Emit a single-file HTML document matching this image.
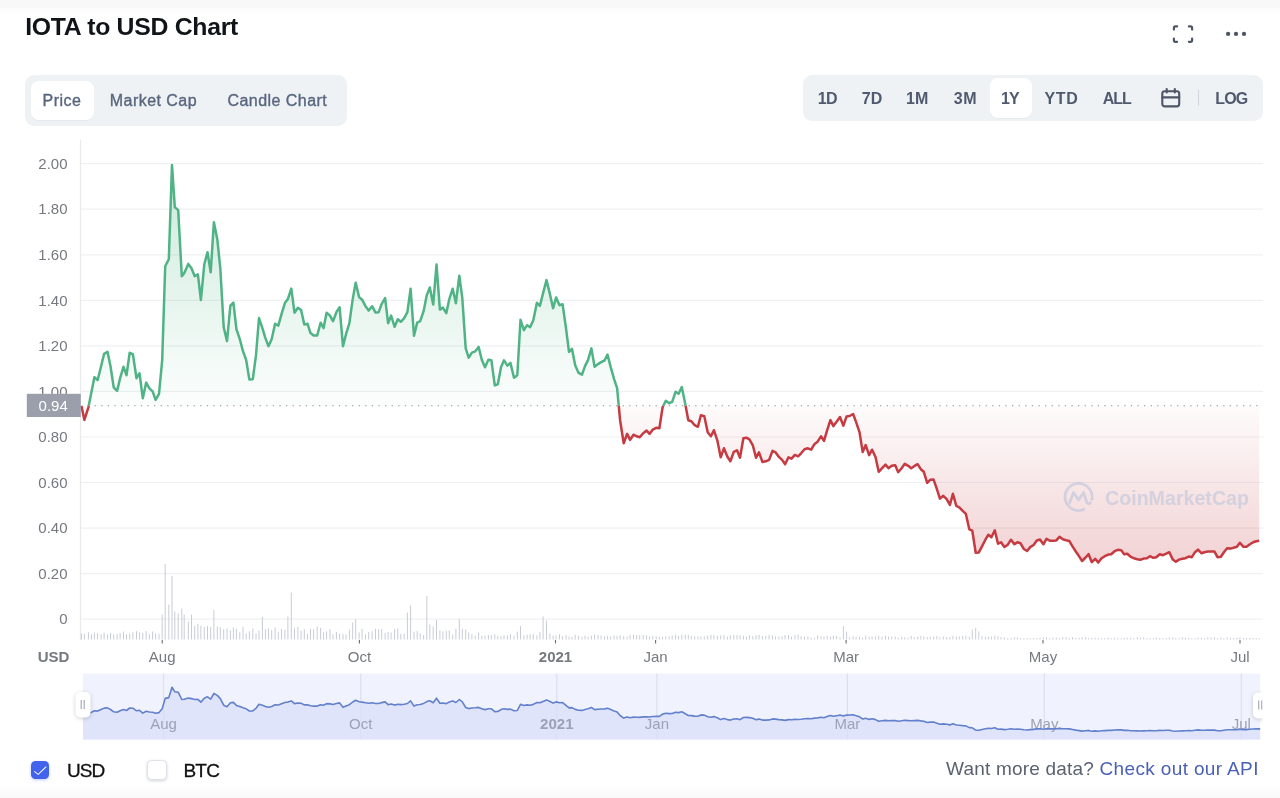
<!DOCTYPE html>
<html lang="en"><head><meta charset="utf-8"><title>IOTA to USD Chart</title>
<style>
html,body{margin:0;padding:0}
body{width:1280px;height:798px;overflow:hidden;background:#fff;position:relative;font-family:"Liberation Sans",Arial,sans-serif;}
.abs{position:absolute;white-space:nowrap}
#topband{left:0;top:0;width:1280px;height:17px;background:linear-gradient(#f8f8f8 0,#f8f8f8 40%,#fcfcfc 55%,#ffffff)}
#botband{left:0;top:785px;width:1280px;height:13px;background:linear-gradient(#ffffff,#f8f8f8)}
h1{margin:0;font-size:24.8px;font-weight:700;color:#101418;left:25.2px;top:13.1px;line-height:28px;letter-spacing:-0.28px}
.seg{background:#eff2f5;border-radius:9px}
.pill{background:#fff;border-radius:8px;box-shadow:0 1px 0 rgba(128,138,157,.08)}
.tab{font-size:16px;color:#58667e;line-height:20px;top:90.5px;-webkit-text-stroke:0.35px #58667e;letter-spacing:.45px}
.rng{font-size:16px;font-weight:700;color:#505a6e;line-height:20px;top:89.2px}
.cur{font-size:19px;color:#111;line-height:22px;top:759.6px;-webkit-text-stroke:0.3px #111}
#chart{position:absolute;left:0;top:0}
svg text{font-family:"Liberation Sans",Arial,sans-serif}
</style></head><body>
<div class="abs" id="topband"></div>
<div class="abs" id="botband"></div>
<h1 class="abs">IOTA to USD Chart</h1>

<div class="abs seg" style="left:25.3px;top:75.4px;width:322px;height:50.4px"></div>
<div class="abs pill" style="left:31px;top:81px;width:63.2px;height:38.6px"></div>
<span class="abs tab" style="left:42.6px">Price</span>
<span class="abs tab" style="left:109.8px">Market Cap</span>
<span class="abs tab" style="left:227.5px">Candle Chart</span>

<div class="abs seg" style="left:802.7px;top:74.5px;width:460.5px;height:46.8px"></div>
<div class="abs pill" style="left:990px;top:78.4px;width:42px;height:39.4px"></div>
<span class="abs rng" style="left:817.8px;letter-spacing:-.7px">1D</span>
<span class="abs rng" style="left:861.8px">7D</span>
<span class="abs rng" style="left:906px">1M</span>
<span class="abs rng" style="left:953.8px;letter-spacing:.6px">3M</span>
<span class="abs rng" style="left:1001px;letter-spacing:-1px">1Y</span>
<span class="abs rng" style="left:1044.6px;letter-spacing:.6px">YTD</span>
<span class="abs rng" style="left:1102.8px;letter-spacing:-1.1px">ALL</span>
<span class="abs rng" style="left:1215.2px;letter-spacing:-.8px">LOG</span>
<div class="abs" style="left:1197.6px;top:90px;width:1.2px;height:16px;background:#d3d7df"></div>
<svg class="abs" style="left:1159px;top:85px" width="24" height="25" viewBox="0 0 24 25" fill="none" stroke="#4e5566" stroke-width="2.1" stroke-linecap="round" stroke-linejoin="round">
<rect x="3.3" y="6.2" width="16.9" height="15.2" rx="2.4"/><path d="M3.3,12.4H20.2M7.7,4.1V7.4M15.8,4.1V7.4"/></svg>

<svg class="abs" style="left:1168px;top:20px" width="30" height="28" viewBox="0 0 30 28" fill="none" stroke="#4e5566" stroke-width="2.2" stroke-linecap="round" stroke-linejoin="round">
<path d="M5.9,9.6V8Q5.9,6.4 7.5,6.4H9.1M20.9,6.4H22.5Q24.1,6.4 24.1,8V9.6M24.1,18.6V20.2Q24.1,21.8 22.5,21.8H20.9M9.1,21.8H7.5Q5.9,21.8 5.9,20.2V18.6"/></svg>
<svg class="abs" style="left:1222px;top:28px" width="28" height="12" viewBox="0 0 28 12" fill="#4e5566"><circle cx="6.1" cy="5.9" r="2.15"/><circle cx="14" cy="5.9" r="2.15"/><circle cx="22" cy="5.9" r="2.15"/></svg>

<svg id="chart" width="1280" height="798" viewBox="0 0 1280 798">
<defs>
<linearGradient id="gg" gradientUnits="userSpaceOnUse" x1="0" y1="150" x2="0" y2="405.8"><stop offset="0" stop-color="#4fb385" stop-opacity="0.30"/><stop offset="1" stop-color="#4fb385" stop-opacity="0.02"/></linearGradient>
<linearGradient id="rg" gradientUnits="userSpaceOnUse" x1="0" y1="405.8" x2="0" y2="640"><stop offset="0" stop-color="#c63a41" stop-opacity="0.02"/><stop offset="1" stop-color="#c63a41" stop-opacity="0.33"/></linearGradient>
<clipPath id="cu"><rect x="0" y="0" width="1280" height="405.8"/></clipPath>
<clipPath id="cl"><rect x="0" y="405.8" width="1280" height="400"/></clipPath>
<clipPath id="cn"><rect x="83" y="673.6" width="1177.2" height="66"/></clipPath>
<clipPath id="cc"><rect x="0" y="0" width="1262.8" height="798"/></clipPath>
</defs>
<line x1="80.5" x2="1263" y1="163.7" y2="163.7" stroke="#eff0f2" stroke-width="1.2"/>
<line x1="80.5" x2="1263" y1="209.2" y2="209.2" stroke="#eff0f2" stroke-width="1.2"/>
<line x1="80.5" x2="1263" y1="254.8" y2="254.8" stroke="#eff0f2" stroke-width="1.2"/>
<line x1="80.5" x2="1263" y1="300.3" y2="300.3" stroke="#eff0f2" stroke-width="1.2"/>
<line x1="80.5" x2="1263" y1="345.9" y2="345.9" stroke="#eff0f2" stroke-width="1.2"/>
<line x1="80.5" x2="1263" y1="391.4" y2="391.4" stroke="#eff0f2" stroke-width="1.2"/>
<line x1="80.5" x2="1263" y1="437.0" y2="437.0" stroke="#eff0f2" stroke-width="1.2"/>
<line x1="80.5" x2="1263" y1="482.5" y2="482.5" stroke="#eff0f2" stroke-width="1.2"/>
<line x1="80.5" x2="1263" y1="528.1" y2="528.1" stroke="#eff0f2" stroke-width="1.2"/>
<line x1="80.5" x2="1263" y1="573.6" y2="573.6" stroke="#eff0f2" stroke-width="1.2"/>
<line x1="80.5" x2="1263" y1="619.2" y2="619.2" stroke="#eff0f2" stroke-width="1.2"/>
<line x1="80.5" x2="80.5" y1="139.5" y2="640" stroke="#e9eaed" stroke-width="1.2"/>
<text x="67.5" y="168.9" text-anchor="end" font-size="15" fill="#76797f">2.00</text>
<text x="67.5" y="214.4" text-anchor="end" font-size="15" fill="#76797f">1.80</text>
<text x="67.5" y="260.0" text-anchor="end" font-size="15" fill="#76797f">1.60</text>
<text x="67.5" y="305.5" text-anchor="end" font-size="15" fill="#76797f">1.40</text>
<text x="67.5" y="351.1" text-anchor="end" font-size="15" fill="#76797f">1.20</text>
<text x="67.5" y="396.6" text-anchor="end" font-size="15" fill="#76797f">1.00</text>
<text x="67.5" y="442.2" text-anchor="end" font-size="15" fill="#76797f">0.80</text>
<text x="67.5" y="487.7" text-anchor="end" font-size="15" fill="#76797f">0.60</text>
<text x="67.5" y="533.3" text-anchor="end" font-size="15" fill="#76797f">0.40</text>
<text x="67.5" y="578.9" text-anchor="end" font-size="15" fill="#76797f">0.20</text>
<text x="67.5" y="624.4" text-anchor="end" font-size="15" fill="#76797f">0</text>
<path d="M81.4,405.8 L84.4,419.9 L88.4,407.3 L91.4,392.3 L94.4,377.2 L97.6,380.2 L101.1,366.2 L104.1,353.8 L107.5,351.8 L110.5,366.2 L113.7,387.3 L117.1,390.9 L120.1,378.2 L123.5,366.8 L126.5,375.2 L129.7,352.8 L132.9,354.2 L136.5,378.2 L139.5,373.2 L142.8,398.3 L146.2,382.6 L149.4,388.3 L152.6,391.3 L155.6,399.9 L159.0,393.9 L162.2,360.2 L165.2,266.3 L168.8,259.3 L172.0,165.0 L174.8,207.1 L178.2,210.1 L181.8,276.3 L184.2,273.3 L188.3,263.9 L191.5,268.3 L194.7,276.3 L197.9,274.3 L200.9,300.0 L204.3,264.3 L207.5,252.2 L210.7,272.3 L213.9,222.2 L217.3,239.2 L220.3,268.3 L223.7,327.1 L227.0,341.1 L230.4,305.7 L233.4,302.7 L236.4,329.1 L239.8,339.1 L243.0,351.2 L246.2,360.2 L249.4,379.6 L252.8,379.2 L256.0,355.2 L259.0,318.1 L262.4,328.1 L265.4,338.1 L268.5,346.2 L271.7,339.1 L275.1,323.7 L278.3,325.7 L281.5,314.1 L284.9,303.1 L287.9,299.0 L291.3,288.6 L294.5,312.7 L297.9,307.7 L301.1,310.1 L304.3,324.5 L307.5,323.7 L310.5,333.1 L313.6,335.5 L317.2,335.5 L320.6,322.7 L323.6,328.1 L326.6,312.7 L330.0,315.6 L333.0,321.2 L336.4,312.2 L339.6,307.2 L343.0,346.3 L346.0,334.2 L349.4,323.2 L352.7,299.1 L355.7,282.7 L359.1,297.1 L362.1,299.7 L365.5,306.2 L368.7,310.6 L372.1,306.2 L375.5,312.6 L378.7,312.2 L381.7,303.8 L385.1,298.1 L388.1,323.2 L391.1,315.6 L394.6,326.8 L397.8,319.2 L400.8,321.8 L404.2,318.2 L407.4,312.2 L410.6,288.7 L414.0,335.8 L417.2,322.6 L420.2,321.2 L423.6,311.2 L426.8,295.1 L429.8,287.5 L433.2,304.6 L436.5,264.5 L439.9,309.6 L442.9,307.6 L446.3,313.2 L449.3,299.1 L452.7,288.7 L455.9,303.2 L459.3,275.7 L462.3,298.1 L465.7,348.3 L468.7,357.7 L471.9,352.7 L475.3,351.3 L478.6,346.9 L481.8,359.7 L485.0,367.3 L488.4,359.7 L491.4,360.3 L494.8,385.4 L497.8,384.3 L501.0,367.3 L504.0,360.3 L507.4,365.7 L510.4,362.9 L514.0,377.7 L517.3,375.3 L520.5,319.8 L523.9,330.2 L527.1,325.2 L530.1,327.2 L533.3,320.2 L536.9,302.8 L539.9,305.8 L543.1,293.1 L546.5,280.1 L549.9,294.1 L553.1,308.2 L556.1,297.5 L559.5,305.2 L562.6,304.2 L566.0,328.2 L569.0,351.9 L572.0,348.9 L575.2,365.3 L578.6,372.9 L582.0,374.7 L585.0,366.1 L588.0,360.1 L591.4,348.4 L594.6,366.7 L598.0,364.1 L601.1,362.1 L604.5,360.5 L607.5,354.5 L610.7,367.1 L614.1,379.1 L617.1,388.1 L620.1,420.2 L623.7,443.3 L627.1,433.9 L630.1,439.9 L633.5,434.7 L636.7,436.3 L639.7,437.3 L643.2,433.2 L646.6,430.6 L649.6,433.9 L652.8,429.6 L656.2,427.8 L659.4,428.2 L662.6,407.2 L665.8,400.8 L669.2,403.2 L672.2,401.8 L675.6,391.7 L678.6,393.8 L681.8,387.1 L685.3,404.2 L688.3,420.2 L691.3,421.2 L694.7,425.2 L697.9,426.8 L700.9,415.2 L704.3,416.2 L707.7,432.2 L710.9,436.3 L713.9,430.2 L717.3,440.3 L720.7,457.3 L723.9,448.3 L727.4,456.7 L730.4,461.3 L733.8,451.9 L737.0,450.3 L740.0,457.7 L743.4,438.3 L746.4,437.7 L749.4,439.3 L752.8,445.3 L756.0,457.7 L759.0,452.3 L762.4,461.9 L765.8,461.3 L769.1,459.9 L772.5,450.9 L775.5,452.3 L778.9,456.9 L782.1,459.9 L785.1,464.3 L788.5,457.3 L791.5,458.7 L794.9,454.9 L798.1,456.3 L801.1,453.3 L804.5,449.3 L807.9,448.3 L811.2,449.7 L814.6,443.9 L817.6,441.7 L821.0,436.3 L824.0,440.9 L827.2,430.2 L830.4,420.1 L833.4,426.1 L836.6,421.7 L840.0,417.0 L843.4,425.7 L846.6,416.4 L849.6,416.0 L853.1,414.0 L856.1,422.1 L859.5,432.1 L862.7,452.1 L865.7,445.1 L869.1,455.1 L872.1,449.7 L875.5,457.1 L878.7,471.8 L882.1,468.2 L885.5,464.6 L888.5,468.2 L891.7,465.8 L895.2,465.2 L898.2,472.2 L901.6,468.2 L904.8,463.8 L908.2,465.8 L911.2,468.2 L914.2,466.2 L917.6,464.2 L920.8,469.2 L923.8,471.8 L927.2,482.8 L930.2,479.8 L933.6,479.6 L936.9,489.2 L939.9,498.6 L943.3,495.8 L946.7,499.2 L949.9,504.9 L952.9,493.8 L956.3,505.9 L959.3,507.3 L962.7,510.9 L965.9,513.9 L969.3,529.3 L972.3,530.7 L975.7,552.8 L978.8,552.4 L982.0,546.4 L985.4,539.7 L988.4,534.7 L991.4,537.3 L994.8,530.3 L998.0,543.7 L1001.0,542.3 L1004.4,547.0 L1007.8,544.7 L1011.0,539.7 L1014.4,544.3 L1017.4,542.3 L1020.5,543.3 L1023.9,549.0 L1027.1,551.0 L1030.2,547.1 L1033.6,545.0 L1036.8,540.5 L1040.0,539.5 L1043.4,544.3 L1046.5,538.8 L1049.8,540.8 L1052.9,540.8 L1056.3,540.4 L1059.5,536.8 L1062.8,539.2 L1066.1,540.2 L1069.3,541.0 L1072.5,546.3 L1075.8,551.5 L1079.1,556.4 L1082.1,561.0 L1085.6,557.5 L1088.6,554.2 L1091.8,562.2 L1095.2,558.8 L1098.2,562.6 L1101.6,558.2 L1104.8,556.2 L1108.2,554.6 L1111.2,554.2 L1114.6,551.2 L1117.8,549.8 L1121.2,550.2 L1124.2,554.2 L1127.2,553.8 L1130.7,556.8 L1133.9,558.2 L1137.3,559.2 L1140.3,559.8 L1143.7,558.6 L1146.9,558.2 L1149.9,556.2 L1153.3,557.8 L1156.3,557.2 L1159.7,554.2 L1162.9,555.2 L1166.3,553.6 L1169.3,552.2 L1172.8,559.6 L1175.8,561.8 L1179.0,559.6 L1182.4,558.8 L1185.4,558.2 L1188.8,556.6 L1191.8,557.2 L1195.0,552.2 L1198.0,549.6 L1201.4,553.2 L1204.4,552.2 L1207.8,551.6 L1211.0,551.6 L1214.5,551.6 L1217.5,557.2 L1220.9,556.8 L1223.9,552.2 L1227.1,548.2 L1230.5,548.6 L1233.5,547.8 L1236.9,546.8 L1239.9,542.8 L1243.5,546.8 L1246.5,546.8 L1249.9,544.2 L1253.2,542.2 L1256.2,541.2 L1259.2,540.8 L1259.2,405.8 L81.4,405.8 Z" fill="url(#gg)" clip-path="url(#cu)"/>
<path d="M81.4,405.8 L84.4,419.9 L88.4,407.3 L91.4,392.3 L94.4,377.2 L97.6,380.2 L101.1,366.2 L104.1,353.8 L107.5,351.8 L110.5,366.2 L113.7,387.3 L117.1,390.9 L120.1,378.2 L123.5,366.8 L126.5,375.2 L129.7,352.8 L132.9,354.2 L136.5,378.2 L139.5,373.2 L142.8,398.3 L146.2,382.6 L149.4,388.3 L152.6,391.3 L155.6,399.9 L159.0,393.9 L162.2,360.2 L165.2,266.3 L168.8,259.3 L172.0,165.0 L174.8,207.1 L178.2,210.1 L181.8,276.3 L184.2,273.3 L188.3,263.9 L191.5,268.3 L194.7,276.3 L197.9,274.3 L200.9,300.0 L204.3,264.3 L207.5,252.2 L210.7,272.3 L213.9,222.2 L217.3,239.2 L220.3,268.3 L223.7,327.1 L227.0,341.1 L230.4,305.7 L233.4,302.7 L236.4,329.1 L239.8,339.1 L243.0,351.2 L246.2,360.2 L249.4,379.6 L252.8,379.2 L256.0,355.2 L259.0,318.1 L262.4,328.1 L265.4,338.1 L268.5,346.2 L271.7,339.1 L275.1,323.7 L278.3,325.7 L281.5,314.1 L284.9,303.1 L287.9,299.0 L291.3,288.6 L294.5,312.7 L297.9,307.7 L301.1,310.1 L304.3,324.5 L307.5,323.7 L310.5,333.1 L313.6,335.5 L317.2,335.5 L320.6,322.7 L323.6,328.1 L326.6,312.7 L330.0,315.6 L333.0,321.2 L336.4,312.2 L339.6,307.2 L343.0,346.3 L346.0,334.2 L349.4,323.2 L352.7,299.1 L355.7,282.7 L359.1,297.1 L362.1,299.7 L365.5,306.2 L368.7,310.6 L372.1,306.2 L375.5,312.6 L378.7,312.2 L381.7,303.8 L385.1,298.1 L388.1,323.2 L391.1,315.6 L394.6,326.8 L397.8,319.2 L400.8,321.8 L404.2,318.2 L407.4,312.2 L410.6,288.7 L414.0,335.8 L417.2,322.6 L420.2,321.2 L423.6,311.2 L426.8,295.1 L429.8,287.5 L433.2,304.6 L436.5,264.5 L439.9,309.6 L442.9,307.6 L446.3,313.2 L449.3,299.1 L452.7,288.7 L455.9,303.2 L459.3,275.7 L462.3,298.1 L465.7,348.3 L468.7,357.7 L471.9,352.7 L475.3,351.3 L478.6,346.9 L481.8,359.7 L485.0,367.3 L488.4,359.7 L491.4,360.3 L494.8,385.4 L497.8,384.3 L501.0,367.3 L504.0,360.3 L507.4,365.7 L510.4,362.9 L514.0,377.7 L517.3,375.3 L520.5,319.8 L523.9,330.2 L527.1,325.2 L530.1,327.2 L533.3,320.2 L536.9,302.8 L539.9,305.8 L543.1,293.1 L546.5,280.1 L549.9,294.1 L553.1,308.2 L556.1,297.5 L559.5,305.2 L562.6,304.2 L566.0,328.2 L569.0,351.9 L572.0,348.9 L575.2,365.3 L578.6,372.9 L582.0,374.7 L585.0,366.1 L588.0,360.1 L591.4,348.4 L594.6,366.7 L598.0,364.1 L601.1,362.1 L604.5,360.5 L607.5,354.5 L610.7,367.1 L614.1,379.1 L617.1,388.1 L620.1,420.2 L623.7,443.3 L627.1,433.9 L630.1,439.9 L633.5,434.7 L636.7,436.3 L639.7,437.3 L643.2,433.2 L646.6,430.6 L649.6,433.9 L652.8,429.6 L656.2,427.8 L659.4,428.2 L662.6,407.2 L665.8,400.8 L669.2,403.2 L672.2,401.8 L675.6,391.7 L678.6,393.8 L681.8,387.1 L685.3,404.2 L688.3,420.2 L691.3,421.2 L694.7,425.2 L697.9,426.8 L700.9,415.2 L704.3,416.2 L707.7,432.2 L710.9,436.3 L713.9,430.2 L717.3,440.3 L720.7,457.3 L723.9,448.3 L727.4,456.7 L730.4,461.3 L733.8,451.9 L737.0,450.3 L740.0,457.7 L743.4,438.3 L746.4,437.7 L749.4,439.3 L752.8,445.3 L756.0,457.7 L759.0,452.3 L762.4,461.9 L765.8,461.3 L769.1,459.9 L772.5,450.9 L775.5,452.3 L778.9,456.9 L782.1,459.9 L785.1,464.3 L788.5,457.3 L791.5,458.7 L794.9,454.9 L798.1,456.3 L801.1,453.3 L804.5,449.3 L807.9,448.3 L811.2,449.7 L814.6,443.9 L817.6,441.7 L821.0,436.3 L824.0,440.9 L827.2,430.2 L830.4,420.1 L833.4,426.1 L836.6,421.7 L840.0,417.0 L843.4,425.7 L846.6,416.4 L849.6,416.0 L853.1,414.0 L856.1,422.1 L859.5,432.1 L862.7,452.1 L865.7,445.1 L869.1,455.1 L872.1,449.7 L875.5,457.1 L878.7,471.8 L882.1,468.2 L885.5,464.6 L888.5,468.2 L891.7,465.8 L895.2,465.2 L898.2,472.2 L901.6,468.2 L904.8,463.8 L908.2,465.8 L911.2,468.2 L914.2,466.2 L917.6,464.2 L920.8,469.2 L923.8,471.8 L927.2,482.8 L930.2,479.8 L933.6,479.6 L936.9,489.2 L939.9,498.6 L943.3,495.8 L946.7,499.2 L949.9,504.9 L952.9,493.8 L956.3,505.9 L959.3,507.3 L962.7,510.9 L965.9,513.9 L969.3,529.3 L972.3,530.7 L975.7,552.8 L978.8,552.4 L982.0,546.4 L985.4,539.7 L988.4,534.7 L991.4,537.3 L994.8,530.3 L998.0,543.7 L1001.0,542.3 L1004.4,547.0 L1007.8,544.7 L1011.0,539.7 L1014.4,544.3 L1017.4,542.3 L1020.5,543.3 L1023.9,549.0 L1027.1,551.0 L1030.2,547.1 L1033.6,545.0 L1036.8,540.5 L1040.0,539.5 L1043.4,544.3 L1046.5,538.8 L1049.8,540.8 L1052.9,540.8 L1056.3,540.4 L1059.5,536.8 L1062.8,539.2 L1066.1,540.2 L1069.3,541.0 L1072.5,546.3 L1075.8,551.5 L1079.1,556.4 L1082.1,561.0 L1085.6,557.5 L1088.6,554.2 L1091.8,562.2 L1095.2,558.8 L1098.2,562.6 L1101.6,558.2 L1104.8,556.2 L1108.2,554.6 L1111.2,554.2 L1114.6,551.2 L1117.8,549.8 L1121.2,550.2 L1124.2,554.2 L1127.2,553.8 L1130.7,556.8 L1133.9,558.2 L1137.3,559.2 L1140.3,559.8 L1143.7,558.6 L1146.9,558.2 L1149.9,556.2 L1153.3,557.8 L1156.3,557.2 L1159.7,554.2 L1162.9,555.2 L1166.3,553.6 L1169.3,552.2 L1172.8,559.6 L1175.8,561.8 L1179.0,559.6 L1182.4,558.8 L1185.4,558.2 L1188.8,556.6 L1191.8,557.2 L1195.0,552.2 L1198.0,549.6 L1201.4,553.2 L1204.4,552.2 L1207.8,551.6 L1211.0,551.6 L1214.5,551.6 L1217.5,557.2 L1220.9,556.8 L1223.9,552.2 L1227.1,548.2 L1230.5,548.6 L1233.5,547.8 L1236.9,546.8 L1239.9,542.8 L1243.5,546.8 L1246.5,546.8 L1249.9,544.2 L1253.2,542.2 L1256.2,541.2 L1259.2,540.8 L1259.2,405.8 L81.4,405.8 Z" fill="url(#rg)" clip-path="url(#cl)"/>
<g opacity="0.52" fill="none" stroke="#b4bfdb">
<circle cx="1078.6" cy="497" r="13.6" stroke-width="2.8" stroke-dasharray="74 12" transform="rotate(62 1078.6 497)"/>
<path d="M1069.5,503 L1073.5,492.5 L1078.6,500 L1083.6,492.5 L1086.4,501.5 Q1087.4,504.5 1090.5,503" stroke-width="2.8" stroke-linecap="round" stroke-linejoin="round"/>
</g>
<text x="1105" y="504.6" font-size="20.5" font-weight="700" fill="#b4bfdb" fill-opacity="0.52" textLength="144" lengthAdjust="spacingAndGlyphs">CoinMarketCap</text>
<path d="M81.4,639.5v-6.1M84.4,639.5v-5.5M88.4,639.5v-7.3M91.4,639.5v-5.3M94.4,639.5v-6.9M97.6,639.5v-6.3M101.1,639.5v-5.2M104.1,639.5v-6.8M107.5,639.5v-5.1M110.5,639.5v-6.5M113.7,639.5v-5.2M117.1,639.5v-5.3M120.1,639.5v-6.5M123.5,639.5v-7.9M126.5,639.5v-5.4M129.7,639.5v-5.8M132.9,639.5v-7.2M136.5,639.5v-8.3M139.5,639.5v-7.0M142.8,639.5v-6.4M146.2,639.5v-8.4M149.4,639.5v-5.2M152.6,639.5v-8.0M155.6,639.5v-6.0M159.0,639.5v-5.5M162.2,639.5v-24.9M165.2,639.5v-75.5M168.8,639.5v-35.0M172.0,639.5v-63.5M174.8,639.5v-28.0M178.2,639.5v-26.0M181.8,639.5v-31.0M184.2,639.5v-25.0M188.3,639.5v-18.0M191.5,639.5v-25.0M194.7,639.5v-13.5M197.9,639.5v-15.7M200.9,639.5v-13.7M204.3,639.5v-12.5M207.5,639.5v-13.4M210.7,639.5v-12.4M213.9,639.5v-29.5M217.3,639.5v-13.1M220.3,639.5v-12.3M223.7,639.5v-10.3M227.0,639.5v-11.2M230.4,639.5v-9.2M233.4,639.5v-12.0M236.4,639.5v-10.8M239.8,639.5v-7.3M243.0,639.5v-12.8M246.2,639.5v-5.9M249.4,639.5v-8.3M252.8,639.5v-11.1M256.0,639.5v-6.2M259.0,639.5v-8.9M262.4,639.5v-22.5M265.4,639.5v-10.3M268.5,639.5v-11.1M271.7,639.5v-9.6M275.1,639.5v-12.0M278.3,639.5v-7.5M281.5,639.5v-10.6M284.9,639.5v-9.8M287.9,639.5v-23.0M291.3,639.5v-47.0M294.5,639.5v-11.7M297.9,639.5v-12.6M301.1,639.5v-8.8M304.3,639.5v-10.3M307.5,639.5v-5.5M310.5,639.5v-10.6M313.6,639.5v-10.2M317.2,639.5v-12.9M320.6,639.5v-11.6M323.6,639.5v-7.3M326.6,639.5v-8.1M330.0,639.5v-10.3M333.0,639.5v-5.2M336.4,639.5v-7.7M339.6,639.5v-5.7M343.0,639.5v-5.3M346.0,639.5v-4.9M349.4,639.5v-9.9M352.7,639.5v-17.0M355.7,639.5v-20.5M359.1,639.5v-7.2M362.1,639.5v-10.6M365.5,639.5v-5.1M368.7,639.5v-7.6M372.1,639.5v-8.3M375.5,639.5v-10.7M378.7,639.5v-10.2M381.7,639.5v-10.5M385.1,639.5v-6.4M388.1,639.5v-7.4M391.1,639.5v-7.0M394.6,639.5v-10.7M397.8,639.5v-11.2M400.8,639.5v-5.6M404.2,639.5v-5.7M407.4,639.5v-27.0M410.6,639.5v-34.0M414.0,639.5v-7.9M417.2,639.5v-8.6M420.2,639.5v-6.3M423.6,639.5v-4.5M426.8,639.5v-43.5M429.8,639.5v-15.0M433.2,639.5v-13.0M436.5,639.5v-19.5M439.9,639.5v-9.3M442.9,639.5v-8.1M446.3,639.5v-8.8M449.3,639.5v-9.2M452.7,639.5v-4.9M455.9,639.5v-10.8M459.3,639.5v-20.5M462.3,639.5v-10.6M465.7,639.5v-10.1M468.7,639.5v-7.2M471.9,639.5v-5.5M475.3,639.5v-4.0M478.6,639.5v-6.7M481.8,639.5v-3.8M485.0,639.5v-3.8M488.4,639.5v-4.5M491.4,639.5v-4.3M494.8,639.5v-5.2M497.8,639.5v-3.8M501.0,639.5v-3.5M504.0,639.5v-4.3M507.4,639.5v-4.0M510.4,639.5v-5.3M514.0,639.5v-3.6M517.3,639.5v-7.9M520.5,639.5v-13.5M523.9,639.5v-4.2M527.1,639.5v-4.8M530.1,639.5v-5.2M533.3,639.5v-5.3M536.9,639.5v-4.1M539.9,639.5v-7.7M543.1,639.5v-23.0M546.5,639.5v-19.0M549.9,639.5v-5.9M553.1,639.5v-3.9M556.1,639.5v-4.0M559.5,639.5v-5.2M562.6,639.5v-3.2M566.0,639.5v-4.4M569.0,639.5v-3.0M572.0,639.5v-2.7M575.2,639.5v-4.7M578.6,639.5v-3.8M582.0,639.5v-2.9M585.0,639.5v-3.8M588.0,639.5v-2.7M591.4,639.5v-3.8M594.6,639.5v-4.8M598.0,639.5v-4.5M601.1,639.5v-4.1M604.5,639.5v-3.2M607.5,639.5v-3.4M610.7,639.5v-3.0M614.1,639.5v-4.3M617.1,639.5v-3.8M620.1,639.5v-4.3M623.7,639.5v-3.3M627.1,639.5v-3.1M630.1,639.5v-4.4M633.5,639.5v-4.8M636.7,639.5v-4.5M639.7,639.5v-4.4M643.2,639.5v-4.4M646.6,639.5v-4.2M649.6,639.5v-3.1M652.8,639.5v-3.7M656.2,639.5v-3.4M659.4,639.5v-2.7M662.6,639.5v-2.7M665.8,639.5v-3.2M669.2,639.5v-3.2M672.2,639.5v-4.1M675.6,639.5v-4.7M678.6,639.5v-3.6M681.8,639.5v-4.7M685.3,639.5v-4.8M688.3,639.5v-4.7M691.3,639.5v-3.4M694.7,639.5v-3.1M697.9,639.5v-3.1M700.9,639.5v-3.0M704.3,639.5v-3.0M707.7,639.5v-4.0M710.9,639.5v-4.6M713.9,639.5v-4.4M717.3,639.5v-3.7M720.7,639.5v-4.0M723.9,639.5v-4.4M727.4,639.5v-2.8M730.4,639.5v-4.1M733.8,639.5v-4.6M737.0,639.5v-4.3M740.0,639.5v-4.3M743.4,639.5v-3.7M746.4,639.5v-3.0M749.4,639.5v-4.3M752.8,639.5v-3.3M756.0,639.5v-4.4M759.0,639.5v-4.7M762.4,639.5v-3.5M765.8,639.5v-3.5M769.1,639.5v-4.7M772.5,639.5v-4.2M775.5,639.5v-3.0M778.9,639.5v-2.9M782.1,639.5v-2.9M785.1,639.5v-4.6M788.5,639.5v-4.4M791.5,639.5v-2.9M794.9,639.5v-4.4M798.1,639.5v-4.8M801.1,639.5v-3.2M804.5,639.5v-2.6M807.9,639.5v-3.0M811.2,639.5v-2.1M814.6,639.5v-1.8M817.6,639.5v-3.9M821.0,639.5v-3.2M824.0,639.5v-3.0M827.2,639.5v-3.9M830.4,639.5v-2.8M833.4,639.5v-3.7M836.6,639.5v-3.6M840.0,639.5v-2.3M843.4,639.5v-13.5M846.6,639.5v-8.0M849.6,639.5v-2.3M853.1,639.5v-3.1M856.1,639.5v-2.4M859.5,639.5v-2.7M862.7,639.5v-2.1M865.7,639.5v-3.8M869.1,639.5v-2.6M872.1,639.5v-2.8M875.5,639.5v-3.1M878.7,639.5v-3.8M882.1,639.5v-2.7M885.5,639.5v-3.8M888.5,639.5v-2.9M891.7,639.5v-3.0M895.2,639.5v-3.0M898.2,639.5v-1.8M901.6,639.5v-2.8M904.8,639.5v-2.2M908.2,639.5v-1.8M911.2,639.5v-3.6M914.2,639.5v-2.2M917.6,639.5v-2.8M920.8,639.5v-3.4M923.8,639.5v-3.0M927.2,639.5v-2.5M930.2,639.5v-2.9M933.6,639.5v-3.0M936.9,639.5v-3.5M939.9,639.5v-2.0M943.3,639.5v-3.0M946.7,639.5v-2.3M949.9,639.5v-2.4M952.9,639.5v-3.5M956.3,639.5v-2.9M959.3,639.5v-3.0M962.7,639.5v-3.5M965.9,639.5v-3.8M969.3,639.5v-2.8M972.3,639.5v-10.0M975.7,639.5v-11.5M978.8,639.5v-8.0M982.0,639.5v-3.3M985.4,639.5v-2.8M988.4,639.5v-3.0M991.4,639.5v-2.9M994.8,639.5v-3.9M998.0,639.5v-3.3M1001.0,639.5v-2.3M1004.4,639.5v-2.3M1007.8,639.5v-1.5M1011.0,639.5v-1.9M1014.4,639.5v-2.3M1017.4,639.5v-2.2M1020.5,639.5v-1.4M1023.9,639.5v-1.3M1027.1,639.5v-1.7M1030.2,639.5v-1.3M1033.6,639.5v-1.5M1036.8,639.5v-1.3M1040.0,639.5v-2.0M1043.4,639.5v-2.1M1046.5,639.5v-2.3M1049.8,639.5v-1.4M1052.9,639.5v-2.1M1056.3,639.5v-2.0M1059.5,639.5v-1.4M1062.8,639.5v-2.3M1066.1,639.5v-2.4M1069.3,639.5v-1.5M1072.5,639.5v-2.3M1075.8,639.5v-1.7M1079.1,639.5v-1.8M1082.1,639.5v-2.4M1085.6,639.5v-2.2M1088.6,639.5v-1.4M1091.8,639.5v-1.7M1095.2,639.5v-1.8M1098.2,639.5v-1.6M1101.6,639.5v-1.4M1104.8,639.5v-1.6M1108.2,639.5v-2.1M1111.2,639.5v-1.2M1114.6,639.5v-1.9M1117.8,639.5v-1.7M1121.2,639.5v-1.2M1124.2,639.5v-1.6M1127.2,639.5v-1.9M1130.7,639.5v-1.8M1133.9,639.5v-1.3M1137.3,639.5v-2.4M1140.3,639.5v-2.1M1143.7,639.5v-2.4M1146.9,639.5v-1.3M1149.9,639.5v-1.5M1153.3,639.5v-1.2M1156.3,639.5v-2.1M1159.7,639.5v-1.5M1162.9,639.5v-1.4M1166.3,639.5v-1.7M1169.3,639.5v-2.3M1172.8,639.5v-2.2M1175.8,639.5v-1.5M1179.0,639.5v-1.4M1182.4,639.5v-2.3M1185.4,639.5v-1.9M1188.8,639.5v-2.0M1191.8,639.5v-1.3M1195.0,639.5v-1.3M1198.0,639.5v-2.0M1201.4,639.5v-1.7M1204.4,639.5v-1.3M1207.8,639.5v-2.3M1211.0,639.5v-2.0M1214.5,639.5v-2.2M1217.5,639.5v-1.3M1220.9,639.5v-2.2M1223.9,639.5v-1.3M1227.1,639.5v-2.2M1230.5,639.5v-1.7M1233.5,639.5v-1.6M1236.9,639.5v-1.9M1239.9,639.5v-2.3M1243.5,639.5v-1.5M1246.5,639.5v-1.4M1249.9,639.5v-1.8M1253.2,639.5v-1.5M1256.2,639.5v-1.3M1259.2,639.5v-1.4" stroke="#c8ccd7" stroke-width="1" fill="none"/>
<path d="M81.4,405.8 L84.4,419.9 L88.4,407.3 L91.4,392.3 L94.4,377.2 L97.6,380.2 L101.1,366.2 L104.1,353.8 L107.5,351.8 L110.5,366.2 L113.7,387.3 L117.1,390.9 L120.1,378.2 L123.5,366.8 L126.5,375.2 L129.7,352.8 L132.9,354.2 L136.5,378.2 L139.5,373.2 L142.8,398.3 L146.2,382.6 L149.4,388.3 L152.6,391.3 L155.6,399.9 L159.0,393.9 L162.2,360.2 L165.2,266.3 L168.8,259.3 L172.0,165.0 L174.8,207.1 L178.2,210.1 L181.8,276.3 L184.2,273.3 L188.3,263.9 L191.5,268.3 L194.7,276.3 L197.9,274.3 L200.9,300.0 L204.3,264.3 L207.5,252.2 L210.7,272.3 L213.9,222.2 L217.3,239.2 L220.3,268.3 L223.7,327.1 L227.0,341.1 L230.4,305.7 L233.4,302.7 L236.4,329.1 L239.8,339.1 L243.0,351.2 L246.2,360.2 L249.4,379.6 L252.8,379.2 L256.0,355.2 L259.0,318.1 L262.4,328.1 L265.4,338.1 L268.5,346.2 L271.7,339.1 L275.1,323.7 L278.3,325.7 L281.5,314.1 L284.9,303.1 L287.9,299.0 L291.3,288.6 L294.5,312.7 L297.9,307.7 L301.1,310.1 L304.3,324.5 L307.5,323.7 L310.5,333.1 L313.6,335.5 L317.2,335.5 L320.6,322.7 L323.6,328.1 L326.6,312.7 L330.0,315.6 L333.0,321.2 L336.4,312.2 L339.6,307.2 L343.0,346.3 L346.0,334.2 L349.4,323.2 L352.7,299.1 L355.7,282.7 L359.1,297.1 L362.1,299.7 L365.5,306.2 L368.7,310.6 L372.1,306.2 L375.5,312.6 L378.7,312.2 L381.7,303.8 L385.1,298.1 L388.1,323.2 L391.1,315.6 L394.6,326.8 L397.8,319.2 L400.8,321.8 L404.2,318.2 L407.4,312.2 L410.6,288.7 L414.0,335.8 L417.2,322.6 L420.2,321.2 L423.6,311.2 L426.8,295.1 L429.8,287.5 L433.2,304.6 L436.5,264.5 L439.9,309.6 L442.9,307.6 L446.3,313.2 L449.3,299.1 L452.7,288.7 L455.9,303.2 L459.3,275.7 L462.3,298.1 L465.7,348.3 L468.7,357.7 L471.9,352.7 L475.3,351.3 L478.6,346.9 L481.8,359.7 L485.0,367.3 L488.4,359.7 L491.4,360.3 L494.8,385.4 L497.8,384.3 L501.0,367.3 L504.0,360.3 L507.4,365.7 L510.4,362.9 L514.0,377.7 L517.3,375.3 L520.5,319.8 L523.9,330.2 L527.1,325.2 L530.1,327.2 L533.3,320.2 L536.9,302.8 L539.9,305.8 L543.1,293.1 L546.5,280.1 L549.9,294.1 L553.1,308.2 L556.1,297.5 L559.5,305.2 L562.6,304.2 L566.0,328.2 L569.0,351.9 L572.0,348.9 L575.2,365.3 L578.6,372.9 L582.0,374.7 L585.0,366.1 L588.0,360.1 L591.4,348.4 L594.6,366.7 L598.0,364.1 L601.1,362.1 L604.5,360.5 L607.5,354.5 L610.7,367.1 L614.1,379.1 L617.1,388.1 L620.1,420.2 L623.7,443.3 L627.1,433.9 L630.1,439.9 L633.5,434.7 L636.7,436.3 L639.7,437.3 L643.2,433.2 L646.6,430.6 L649.6,433.9 L652.8,429.6 L656.2,427.8 L659.4,428.2 L662.6,407.2 L665.8,400.8 L669.2,403.2 L672.2,401.8 L675.6,391.7 L678.6,393.8 L681.8,387.1 L685.3,404.2 L688.3,420.2 L691.3,421.2 L694.7,425.2 L697.9,426.8 L700.9,415.2 L704.3,416.2 L707.7,432.2 L710.9,436.3 L713.9,430.2 L717.3,440.3 L720.7,457.3 L723.9,448.3 L727.4,456.7 L730.4,461.3 L733.8,451.9 L737.0,450.3 L740.0,457.7 L743.4,438.3 L746.4,437.7 L749.4,439.3 L752.8,445.3 L756.0,457.7 L759.0,452.3 L762.4,461.9 L765.8,461.3 L769.1,459.9 L772.5,450.9 L775.5,452.3 L778.9,456.9 L782.1,459.9 L785.1,464.3 L788.5,457.3 L791.5,458.7 L794.9,454.9 L798.1,456.3 L801.1,453.3 L804.5,449.3 L807.9,448.3 L811.2,449.7 L814.6,443.9 L817.6,441.7 L821.0,436.3 L824.0,440.9 L827.2,430.2 L830.4,420.1 L833.4,426.1 L836.6,421.7 L840.0,417.0 L843.4,425.7 L846.6,416.4 L849.6,416.0 L853.1,414.0 L856.1,422.1 L859.5,432.1 L862.7,452.1 L865.7,445.1 L869.1,455.1 L872.1,449.7 L875.5,457.1 L878.7,471.8 L882.1,468.2 L885.5,464.6 L888.5,468.2 L891.7,465.8 L895.2,465.2 L898.2,472.2 L901.6,468.2 L904.8,463.8 L908.2,465.8 L911.2,468.2 L914.2,466.2 L917.6,464.2 L920.8,469.2 L923.8,471.8 L927.2,482.8 L930.2,479.8 L933.6,479.6 L936.9,489.2 L939.9,498.6 L943.3,495.8 L946.7,499.2 L949.9,504.9 L952.9,493.8 L956.3,505.9 L959.3,507.3 L962.7,510.9 L965.9,513.9 L969.3,529.3 L972.3,530.7 L975.7,552.8 L978.8,552.4 L982.0,546.4 L985.4,539.7 L988.4,534.7 L991.4,537.3 L994.8,530.3 L998.0,543.7 L1001.0,542.3 L1004.4,547.0 L1007.8,544.7 L1011.0,539.7 L1014.4,544.3 L1017.4,542.3 L1020.5,543.3 L1023.9,549.0 L1027.1,551.0 L1030.2,547.1 L1033.6,545.0 L1036.8,540.5 L1040.0,539.5 L1043.4,544.3 L1046.5,538.8 L1049.8,540.8 L1052.9,540.8 L1056.3,540.4 L1059.5,536.8 L1062.8,539.2 L1066.1,540.2 L1069.3,541.0 L1072.5,546.3 L1075.8,551.5 L1079.1,556.4 L1082.1,561.0 L1085.6,557.5 L1088.6,554.2 L1091.8,562.2 L1095.2,558.8 L1098.2,562.6 L1101.6,558.2 L1104.8,556.2 L1108.2,554.6 L1111.2,554.2 L1114.6,551.2 L1117.8,549.8 L1121.2,550.2 L1124.2,554.2 L1127.2,553.8 L1130.7,556.8 L1133.9,558.2 L1137.3,559.2 L1140.3,559.8 L1143.7,558.6 L1146.9,558.2 L1149.9,556.2 L1153.3,557.8 L1156.3,557.2 L1159.7,554.2 L1162.9,555.2 L1166.3,553.6 L1169.3,552.2 L1172.8,559.6 L1175.8,561.8 L1179.0,559.6 L1182.4,558.8 L1185.4,558.2 L1188.8,556.6 L1191.8,557.2 L1195.0,552.2 L1198.0,549.6 L1201.4,553.2 L1204.4,552.2 L1207.8,551.6 L1211.0,551.6 L1214.5,551.6 L1217.5,557.2 L1220.9,556.8 L1223.9,552.2 L1227.1,548.2 L1230.5,548.6 L1233.5,547.8 L1236.9,546.8 L1239.9,542.8 L1243.5,546.8 L1246.5,546.8 L1249.9,544.2 L1253.2,542.2 L1256.2,541.2 L1259.2,540.8" fill="none" stroke="#4fb385" stroke-width="2.5" stroke-linejoin="round" stroke-linecap="butt" clip-path="url(#cu)"/>
<path d="M81.4,405.8 L84.4,419.9 L88.4,407.3 L91.4,392.3 L94.4,377.2 L97.6,380.2 L101.1,366.2 L104.1,353.8 L107.5,351.8 L110.5,366.2 L113.7,387.3 L117.1,390.9 L120.1,378.2 L123.5,366.8 L126.5,375.2 L129.7,352.8 L132.9,354.2 L136.5,378.2 L139.5,373.2 L142.8,398.3 L146.2,382.6 L149.4,388.3 L152.6,391.3 L155.6,399.9 L159.0,393.9 L162.2,360.2 L165.2,266.3 L168.8,259.3 L172.0,165.0 L174.8,207.1 L178.2,210.1 L181.8,276.3 L184.2,273.3 L188.3,263.9 L191.5,268.3 L194.7,276.3 L197.9,274.3 L200.9,300.0 L204.3,264.3 L207.5,252.2 L210.7,272.3 L213.9,222.2 L217.3,239.2 L220.3,268.3 L223.7,327.1 L227.0,341.1 L230.4,305.7 L233.4,302.7 L236.4,329.1 L239.8,339.1 L243.0,351.2 L246.2,360.2 L249.4,379.6 L252.8,379.2 L256.0,355.2 L259.0,318.1 L262.4,328.1 L265.4,338.1 L268.5,346.2 L271.7,339.1 L275.1,323.7 L278.3,325.7 L281.5,314.1 L284.9,303.1 L287.9,299.0 L291.3,288.6 L294.5,312.7 L297.9,307.7 L301.1,310.1 L304.3,324.5 L307.5,323.7 L310.5,333.1 L313.6,335.5 L317.2,335.5 L320.6,322.7 L323.6,328.1 L326.6,312.7 L330.0,315.6 L333.0,321.2 L336.4,312.2 L339.6,307.2 L343.0,346.3 L346.0,334.2 L349.4,323.2 L352.7,299.1 L355.7,282.7 L359.1,297.1 L362.1,299.7 L365.5,306.2 L368.7,310.6 L372.1,306.2 L375.5,312.6 L378.7,312.2 L381.7,303.8 L385.1,298.1 L388.1,323.2 L391.1,315.6 L394.6,326.8 L397.8,319.2 L400.8,321.8 L404.2,318.2 L407.4,312.2 L410.6,288.7 L414.0,335.8 L417.2,322.6 L420.2,321.2 L423.6,311.2 L426.8,295.1 L429.8,287.5 L433.2,304.6 L436.5,264.5 L439.9,309.6 L442.9,307.6 L446.3,313.2 L449.3,299.1 L452.7,288.7 L455.9,303.2 L459.3,275.7 L462.3,298.1 L465.7,348.3 L468.7,357.7 L471.9,352.7 L475.3,351.3 L478.6,346.9 L481.8,359.7 L485.0,367.3 L488.4,359.7 L491.4,360.3 L494.8,385.4 L497.8,384.3 L501.0,367.3 L504.0,360.3 L507.4,365.7 L510.4,362.9 L514.0,377.7 L517.3,375.3 L520.5,319.8 L523.9,330.2 L527.1,325.2 L530.1,327.2 L533.3,320.2 L536.9,302.8 L539.9,305.8 L543.1,293.1 L546.5,280.1 L549.9,294.1 L553.1,308.2 L556.1,297.5 L559.5,305.2 L562.6,304.2 L566.0,328.2 L569.0,351.9 L572.0,348.9 L575.2,365.3 L578.6,372.9 L582.0,374.7 L585.0,366.1 L588.0,360.1 L591.4,348.4 L594.6,366.7 L598.0,364.1 L601.1,362.1 L604.5,360.5 L607.5,354.5 L610.7,367.1 L614.1,379.1 L617.1,388.1 L620.1,420.2 L623.7,443.3 L627.1,433.9 L630.1,439.9 L633.5,434.7 L636.7,436.3 L639.7,437.3 L643.2,433.2 L646.6,430.6 L649.6,433.9 L652.8,429.6 L656.2,427.8 L659.4,428.2 L662.6,407.2 L665.8,400.8 L669.2,403.2 L672.2,401.8 L675.6,391.7 L678.6,393.8 L681.8,387.1 L685.3,404.2 L688.3,420.2 L691.3,421.2 L694.7,425.2 L697.9,426.8 L700.9,415.2 L704.3,416.2 L707.7,432.2 L710.9,436.3 L713.9,430.2 L717.3,440.3 L720.7,457.3 L723.9,448.3 L727.4,456.7 L730.4,461.3 L733.8,451.9 L737.0,450.3 L740.0,457.7 L743.4,438.3 L746.4,437.7 L749.4,439.3 L752.8,445.3 L756.0,457.7 L759.0,452.3 L762.4,461.9 L765.8,461.3 L769.1,459.9 L772.5,450.9 L775.5,452.3 L778.9,456.9 L782.1,459.9 L785.1,464.3 L788.5,457.3 L791.5,458.7 L794.9,454.9 L798.1,456.3 L801.1,453.3 L804.5,449.3 L807.9,448.3 L811.2,449.7 L814.6,443.9 L817.6,441.7 L821.0,436.3 L824.0,440.9 L827.2,430.2 L830.4,420.1 L833.4,426.1 L836.6,421.7 L840.0,417.0 L843.4,425.7 L846.6,416.4 L849.6,416.0 L853.1,414.0 L856.1,422.1 L859.5,432.1 L862.7,452.1 L865.7,445.1 L869.1,455.1 L872.1,449.7 L875.5,457.1 L878.7,471.8 L882.1,468.2 L885.5,464.6 L888.5,468.2 L891.7,465.8 L895.2,465.2 L898.2,472.2 L901.6,468.2 L904.8,463.8 L908.2,465.8 L911.2,468.2 L914.2,466.2 L917.6,464.2 L920.8,469.2 L923.8,471.8 L927.2,482.8 L930.2,479.8 L933.6,479.6 L936.9,489.2 L939.9,498.6 L943.3,495.8 L946.7,499.2 L949.9,504.9 L952.9,493.8 L956.3,505.9 L959.3,507.3 L962.7,510.9 L965.9,513.9 L969.3,529.3 L972.3,530.7 L975.7,552.8 L978.8,552.4 L982.0,546.4 L985.4,539.7 L988.4,534.7 L991.4,537.3 L994.8,530.3 L998.0,543.7 L1001.0,542.3 L1004.4,547.0 L1007.8,544.7 L1011.0,539.7 L1014.4,544.3 L1017.4,542.3 L1020.5,543.3 L1023.9,549.0 L1027.1,551.0 L1030.2,547.1 L1033.6,545.0 L1036.8,540.5 L1040.0,539.5 L1043.4,544.3 L1046.5,538.8 L1049.8,540.8 L1052.9,540.8 L1056.3,540.4 L1059.5,536.8 L1062.8,539.2 L1066.1,540.2 L1069.3,541.0 L1072.5,546.3 L1075.8,551.5 L1079.1,556.4 L1082.1,561.0 L1085.6,557.5 L1088.6,554.2 L1091.8,562.2 L1095.2,558.8 L1098.2,562.6 L1101.6,558.2 L1104.8,556.2 L1108.2,554.6 L1111.2,554.2 L1114.6,551.2 L1117.8,549.8 L1121.2,550.2 L1124.2,554.2 L1127.2,553.8 L1130.7,556.8 L1133.9,558.2 L1137.3,559.2 L1140.3,559.8 L1143.7,558.6 L1146.9,558.2 L1149.9,556.2 L1153.3,557.8 L1156.3,557.2 L1159.7,554.2 L1162.9,555.2 L1166.3,553.6 L1169.3,552.2 L1172.8,559.6 L1175.8,561.8 L1179.0,559.6 L1182.4,558.8 L1185.4,558.2 L1188.8,556.6 L1191.8,557.2 L1195.0,552.2 L1198.0,549.6 L1201.4,553.2 L1204.4,552.2 L1207.8,551.6 L1211.0,551.6 L1214.5,551.6 L1217.5,557.2 L1220.9,556.8 L1223.9,552.2 L1227.1,548.2 L1230.5,548.6 L1233.5,547.8 L1236.9,546.8 L1239.9,542.8 L1243.5,546.8 L1246.5,546.8 L1249.9,544.2 L1253.2,542.2 L1256.2,541.2 L1259.2,540.8" fill="none" stroke="#c63a41" stroke-width="2.5" stroke-linejoin="round" stroke-linecap="butt" clip-path="url(#cl)"/>
<line x1="88" x2="1263" y1="405.8" y2="405.8" stroke="#8b909b" stroke-width="1.1" stroke-dasharray="1.3 5.3"/>
<rect x="26.8" y="393.8" width="54" height="23.2" fill="#9a9fab"/>
<text x="67.8" y="411.0" text-anchor="end" font-size="15" fill="#ffffff">0.94</text>
<line x1="162.2" x2="162.2" y1="640" y2="643.4" stroke="#666b76" stroke-width="1.1"/>
<text x="162.2" y="661.8" text-anchor="middle" font-size="15" fill="#76797f">Aug</text>
<line x1="359.4" x2="359.4" y1="640" y2="643.4" stroke="#666b76" stroke-width="1.1"/>
<text x="359.4" y="661.8" text-anchor="middle" font-size="15" fill="#76797f">Oct</text>
<line x1="555.5" x2="555.5" y1="640" y2="643.4" stroke="#666b76" stroke-width="1.1"/>
<text x="555.5" y="661.8" text-anchor="middle" font-size="15" font-weight="700" fill="#76797f">2021</text>
<line x1="655.6" x2="655.6" y1="640" y2="643.4" stroke="#666b76" stroke-width="1.1"/>
<text x="655.6" y="661.8" text-anchor="middle" font-size="15" fill="#76797f">Jan</text>
<line x1="846.1" x2="846.1" y1="640" y2="643.4" stroke="#666b76" stroke-width="1.1"/>
<text x="846.1" y="661.8" text-anchor="middle" font-size="15" fill="#76797f">Mar</text>
<line x1="1043" x2="1043" y1="640" y2="643.4" stroke="#666b76" stroke-width="1.1"/>
<text x="1043" y="661.8" text-anchor="middle" font-size="15" fill="#76797f">May</text>
<line x1="1240" x2="1240" y1="640" y2="643.4" stroke="#666b76" stroke-width="1.1"/>
<text x="1240" y="661.8" text-anchor="middle" font-size="15" fill="#76797f">Jul</text>
<text x="53.5" y="661.8" text-anchor="middle" font-size="15" font-weight="700" fill="#76797f">USD</text>
<rect x="83" y="673.6" width="1177.2" height="66" fill="#f0f2fd"/>
<path d="M83.0,713.9 L84.4,715.5 L88.4,714.1 L91.4,712.4 L94.4,710.7 L97.6,711.1 L101.1,709.5 L104.1,708.1 L107.5,707.9 L110.5,709.5 L113.7,711.8 L117.1,712.2 L120.1,710.8 L123.5,709.6 L126.5,710.5 L129.7,708.0 L132.9,708.2 L136.5,710.8 L139.5,710.3 L142.8,713.1 L146.2,711.3 L149.4,712.0 L152.6,712.3 L155.6,713.2 L159.0,712.6 L162.2,708.8 L165.2,698.4 L168.8,697.6 L172.0,687.2 L174.8,691.8 L178.2,692.2 L181.8,699.5 L184.2,699.2 L188.3,698.1 L191.5,698.6 L194.7,699.5 L197.9,699.3 L200.9,702.1 L204.3,698.2 L207.5,696.8 L210.7,699.1 L213.9,693.5 L217.3,695.4 L220.3,698.6 L223.7,705.2 L227.0,706.7 L230.4,702.8 L233.4,702.4 L236.4,705.4 L239.8,706.5 L243.0,707.8 L246.2,708.8 L249.4,711.0 L252.8,710.9 L256.0,708.3 L259.0,704.2 L262.4,705.3 L265.4,706.4 L268.5,707.3 L271.7,706.5 L275.1,704.8 L278.3,705.0 L281.5,703.7 L284.9,702.5 L287.9,702.0 L291.3,700.9 L294.5,703.6 L297.9,703.0 L301.1,703.3 L304.3,704.9 L307.5,704.8 L310.5,705.8 L313.6,706.1 L317.2,706.1 L320.6,704.7 L323.6,705.3 L326.6,703.6 L330.0,703.9 L333.0,704.5 L336.4,703.5 L339.6,702.9 L343.0,707.3 L346.0,705.9 L349.4,704.7 L352.7,702.0 L355.7,700.2 L359.1,701.8 L362.1,702.1 L365.5,702.8 L368.7,703.3 L372.1,702.8 L375.5,703.5 L378.7,703.5 L381.7,702.6 L385.1,701.9 L388.1,704.7 L391.1,703.9 L394.6,705.1 L397.8,704.3 L400.8,704.6 L404.2,704.2 L407.4,703.5 L410.6,700.9 L414.0,706.1 L417.2,704.7 L420.2,704.5 L423.6,703.4 L426.8,701.6 L429.8,700.8 L433.2,702.7 L436.5,698.2 L439.9,703.2 L442.9,703.0 L446.3,703.6 L449.3,702.0 L452.7,700.9 L455.9,702.5 L459.3,699.5 L462.3,701.9 L465.7,707.5 L468.7,708.6 L471.9,708.0 L475.3,707.8 L478.6,707.4 L481.8,708.8 L485.0,709.6 L488.4,708.8 L491.4,708.8 L494.8,711.6 L497.8,711.5 L501.0,709.6 L504.0,708.8 L507.4,709.4 L510.4,709.1 L514.0,710.8 L517.3,710.5 L520.5,704.3 L523.9,705.5 L527.1,704.9 L530.1,705.2 L533.3,704.4 L536.9,702.5 L539.9,702.8 L543.1,701.4 L546.5,699.9 L549.9,701.5 L553.1,703.1 L556.1,701.9 L559.5,702.7 L562.6,702.6 L566.0,705.3 L569.0,707.9 L572.0,707.6 L575.2,709.4 L578.6,710.2 L582.0,710.4 L585.0,709.5 L588.0,708.8 L591.4,707.5 L594.6,709.6 L598.0,709.3 L601.1,709.0 L604.5,708.9 L607.5,708.2 L610.7,709.6 L614.1,710.9 L617.1,711.9 L620.1,715.5 L623.7,718.1 L627.1,717.0 L630.1,717.7 L633.5,717.1 L636.7,717.3 L639.7,717.4 L643.2,716.9 L646.6,716.7 L649.6,717.0 L652.8,716.5 L656.2,716.3 L659.4,716.4 L662.6,714.1 L665.8,713.3 L669.2,713.6 L672.2,713.5 L675.6,712.3 L678.6,712.6 L681.8,711.8 L685.3,713.7 L688.3,715.5 L691.3,715.6 L694.7,716.1 L697.9,716.2 L700.9,714.9 L704.3,715.1 L707.7,716.8 L710.9,717.3 L713.9,716.6 L717.3,717.7 L720.7,719.6 L723.9,718.6 L727.4,719.6 L730.4,720.1 L733.8,719.0 L737.0,718.8 L740.0,719.7 L743.4,717.5 L746.4,717.4 L749.4,717.6 L752.8,718.3 L756.0,719.7 L759.0,719.1 L762.4,720.1 L765.8,720.1 L769.1,719.9 L772.5,718.9 L775.5,719.1 L778.9,719.6 L782.1,719.9 L785.1,720.4 L788.5,719.6 L791.5,719.8 L794.9,719.4 L798.1,719.5 L801.1,719.2 L804.5,718.7 L807.9,718.6 L811.2,718.8 L814.6,718.1 L817.6,717.9 L821.0,717.3 L824.0,717.8 L827.2,716.6 L830.4,715.5 L833.4,716.2 L836.6,715.7 L840.0,715.1 L843.4,716.1 L846.6,715.1 L849.6,715.0 L853.1,714.8 L856.1,715.7 L859.5,716.8 L862.7,719.0 L865.7,718.3 L869.1,719.4 L872.1,718.8 L875.5,719.6 L878.7,721.2 L882.1,720.8 L885.5,720.4 L888.5,720.8 L891.7,720.6 L895.2,720.5 L898.2,721.3 L901.6,720.8 L904.8,720.3 L908.2,720.6 L911.2,720.8 L914.2,720.6 L917.6,720.4 L920.8,720.9 L923.8,721.2 L927.2,722.5 L930.2,722.1 L933.6,722.1 L936.9,723.2 L939.9,724.2 L943.3,723.9 L946.7,724.3 L949.9,724.9 L952.9,723.7 L956.3,725.0 L959.3,725.2 L962.7,725.6 L965.9,725.9 L969.3,727.6 L972.3,727.8 L975.7,730.2 L978.8,730.2 L982.0,729.5 L985.4,728.8 L988.4,728.2 L991.4,728.5 L994.8,727.7 L998.0,729.2 L1001.0,729.1 L1004.4,729.6 L1007.8,729.3 L1011.0,728.8 L1014.4,729.3 L1017.4,729.1 L1020.5,729.2 L1023.9,729.8 L1027.1,730.0 L1030.2,729.6 L1033.6,729.4 L1036.8,728.9 L1040.0,728.7 L1043.4,729.3 L1046.5,728.7 L1049.8,728.9 L1052.9,728.9 L1056.3,728.8 L1059.5,728.4 L1062.8,728.7 L1066.1,728.8 L1069.3,728.9 L1072.5,729.5 L1075.8,730.1 L1079.1,730.6 L1082.1,731.1 L1085.6,730.7 L1088.6,730.4 L1091.8,731.3 L1095.2,730.9 L1098.2,731.3 L1101.6,730.8 L1104.8,730.6 L1108.2,730.4 L1111.2,730.4 L1114.6,730.0 L1117.8,729.9 L1121.2,729.9 L1124.2,730.4 L1127.2,730.3 L1130.7,730.7 L1133.9,730.8 L1137.3,730.9 L1140.3,731.0 L1143.7,730.9 L1146.9,730.8 L1149.9,730.6 L1153.3,730.8 L1156.3,730.7 L1159.7,730.4 L1162.9,730.5 L1166.3,730.3 L1169.3,730.2 L1172.8,731.0 L1175.8,731.2 L1179.0,731.0 L1182.4,730.9 L1185.4,730.8 L1188.8,730.6 L1191.8,730.7 L1195.0,730.2 L1198.0,729.9 L1201.4,730.3 L1204.4,730.2 L1207.8,730.1 L1211.0,730.1 L1214.5,730.1 L1217.5,730.7 L1220.9,730.7 L1223.9,730.2 L1227.1,729.7 L1230.5,729.8 L1233.5,729.7 L1236.9,729.6 L1239.9,729.1 L1243.5,729.6 L1246.5,729.6 L1249.9,729.3 L1253.2,729.0 L1256.2,728.9 L1260.2,728.9 L1260.2,739.6 L83,739.6 Z" fill="#dfe4fa"/>
<line x1="163.5" x2="163.5" y1="673.6" y2="739.6" stroke="#dcdff0" stroke-width="1.2"/>
<line x1="360.7" x2="360.7" y1="673.6" y2="739.6" stroke="#dcdff0" stroke-width="1.2"/>
<line x1="556.8" x2="556.8" y1="673.6" y2="739.6" stroke="#dcdff0" stroke-width="1.2"/>
<line x1="656.9" x2="656.9" y1="673.6" y2="739.6" stroke="#dcdff0" stroke-width="1.2"/>
<line x1="847.4" x2="847.4" y1="673.6" y2="739.6" stroke="#dcdff0" stroke-width="1.2"/>
<line x1="1044.3" x2="1044.3" y1="673.6" y2="739.6" stroke="#dcdff0" stroke-width="1.2"/>
<line x1="1241.3" x2="1241.3" y1="673.6" y2="739.6" stroke="#dcdff0" stroke-width="1.2"/>
<text x="163.5" y="729" text-anchor="middle" font-size="15" fill="#9da1b8">Aug</text>
<text x="360.7" y="729" text-anchor="middle" font-size="15" fill="#9da1b8">Oct</text>
<text x="556.8" y="729" text-anchor="middle" font-size="15" font-weight="700" fill="#9da1b8">2021</text>
<text x="656.9" y="729" text-anchor="middle" font-size="15" fill="#9da1b8">Jan</text>
<text x="847.4" y="729" text-anchor="middle" font-size="15" fill="#9da1b8">Mar</text>
<text x="1044.3" y="729" text-anchor="middle" font-size="15" fill="#9da1b8">May</text>
<text x="1241.3" y="729" text-anchor="middle" font-size="15" fill="#9da1b8">Jul</text>
<path d="M83.0,713.9 L84.4,715.5 L88.4,714.1 L91.4,712.4 L94.4,710.7 L97.6,711.1 L101.1,709.5 L104.1,708.1 L107.5,707.9 L110.5,709.5 L113.7,711.8 L117.1,712.2 L120.1,710.8 L123.5,709.6 L126.5,710.5 L129.7,708.0 L132.9,708.2 L136.5,710.8 L139.5,710.3 L142.8,713.1 L146.2,711.3 L149.4,712.0 L152.6,712.3 L155.6,713.2 L159.0,712.6 L162.2,708.8 L165.2,698.4 L168.8,697.6 L172.0,687.2 L174.8,691.8 L178.2,692.2 L181.8,699.5 L184.2,699.2 L188.3,698.1 L191.5,698.6 L194.7,699.5 L197.9,699.3 L200.9,702.1 L204.3,698.2 L207.5,696.8 L210.7,699.1 L213.9,693.5 L217.3,695.4 L220.3,698.6 L223.7,705.2 L227.0,706.7 L230.4,702.8 L233.4,702.4 L236.4,705.4 L239.8,706.5 L243.0,707.8 L246.2,708.8 L249.4,711.0 L252.8,710.9 L256.0,708.3 L259.0,704.2 L262.4,705.3 L265.4,706.4 L268.5,707.3 L271.7,706.5 L275.1,704.8 L278.3,705.0 L281.5,703.7 L284.9,702.5 L287.9,702.0 L291.3,700.9 L294.5,703.6 L297.9,703.0 L301.1,703.3 L304.3,704.9 L307.5,704.8 L310.5,705.8 L313.6,706.1 L317.2,706.1 L320.6,704.7 L323.6,705.3 L326.6,703.6 L330.0,703.9 L333.0,704.5 L336.4,703.5 L339.6,702.9 L343.0,707.3 L346.0,705.9 L349.4,704.7 L352.7,702.0 L355.7,700.2 L359.1,701.8 L362.1,702.1 L365.5,702.8 L368.7,703.3 L372.1,702.8 L375.5,703.5 L378.7,703.5 L381.7,702.6 L385.1,701.9 L388.1,704.7 L391.1,703.9 L394.6,705.1 L397.8,704.3 L400.8,704.6 L404.2,704.2 L407.4,703.5 L410.6,700.9 L414.0,706.1 L417.2,704.7 L420.2,704.5 L423.6,703.4 L426.8,701.6 L429.8,700.8 L433.2,702.7 L436.5,698.2 L439.9,703.2 L442.9,703.0 L446.3,703.6 L449.3,702.0 L452.7,700.9 L455.9,702.5 L459.3,699.5 L462.3,701.9 L465.7,707.5 L468.7,708.6 L471.9,708.0 L475.3,707.8 L478.6,707.4 L481.8,708.8 L485.0,709.6 L488.4,708.8 L491.4,708.8 L494.8,711.6 L497.8,711.5 L501.0,709.6 L504.0,708.8 L507.4,709.4 L510.4,709.1 L514.0,710.8 L517.3,710.5 L520.5,704.3 L523.9,705.5 L527.1,704.9 L530.1,705.2 L533.3,704.4 L536.9,702.5 L539.9,702.8 L543.1,701.4 L546.5,699.9 L549.9,701.5 L553.1,703.1 L556.1,701.9 L559.5,702.7 L562.6,702.6 L566.0,705.3 L569.0,707.9 L572.0,707.6 L575.2,709.4 L578.6,710.2 L582.0,710.4 L585.0,709.5 L588.0,708.8 L591.4,707.5 L594.6,709.6 L598.0,709.3 L601.1,709.0 L604.5,708.9 L607.5,708.2 L610.7,709.6 L614.1,710.9 L617.1,711.9 L620.1,715.5 L623.7,718.1 L627.1,717.0 L630.1,717.7 L633.5,717.1 L636.7,717.3 L639.7,717.4 L643.2,716.9 L646.6,716.7 L649.6,717.0 L652.8,716.5 L656.2,716.3 L659.4,716.4 L662.6,714.1 L665.8,713.3 L669.2,713.6 L672.2,713.5 L675.6,712.3 L678.6,712.6 L681.8,711.8 L685.3,713.7 L688.3,715.5 L691.3,715.6 L694.7,716.1 L697.9,716.2 L700.9,714.9 L704.3,715.1 L707.7,716.8 L710.9,717.3 L713.9,716.6 L717.3,717.7 L720.7,719.6 L723.9,718.6 L727.4,719.6 L730.4,720.1 L733.8,719.0 L737.0,718.8 L740.0,719.7 L743.4,717.5 L746.4,717.4 L749.4,717.6 L752.8,718.3 L756.0,719.7 L759.0,719.1 L762.4,720.1 L765.8,720.1 L769.1,719.9 L772.5,718.9 L775.5,719.1 L778.9,719.6 L782.1,719.9 L785.1,720.4 L788.5,719.6 L791.5,719.8 L794.9,719.4 L798.1,719.5 L801.1,719.2 L804.5,718.7 L807.9,718.6 L811.2,718.8 L814.6,718.1 L817.6,717.9 L821.0,717.3 L824.0,717.8 L827.2,716.6 L830.4,715.5 L833.4,716.2 L836.6,715.7 L840.0,715.1 L843.4,716.1 L846.6,715.1 L849.6,715.0 L853.1,714.8 L856.1,715.7 L859.5,716.8 L862.7,719.0 L865.7,718.3 L869.1,719.4 L872.1,718.8 L875.5,719.6 L878.7,721.2 L882.1,720.8 L885.5,720.4 L888.5,720.8 L891.7,720.6 L895.2,720.5 L898.2,721.3 L901.6,720.8 L904.8,720.3 L908.2,720.6 L911.2,720.8 L914.2,720.6 L917.6,720.4 L920.8,720.9 L923.8,721.2 L927.2,722.5 L930.2,722.1 L933.6,722.1 L936.9,723.2 L939.9,724.2 L943.3,723.9 L946.7,724.3 L949.9,724.9 L952.9,723.7 L956.3,725.0 L959.3,725.2 L962.7,725.6 L965.9,725.9 L969.3,727.6 L972.3,727.8 L975.7,730.2 L978.8,730.2 L982.0,729.5 L985.4,728.8 L988.4,728.2 L991.4,728.5 L994.8,727.7 L998.0,729.2 L1001.0,729.1 L1004.4,729.6 L1007.8,729.3 L1011.0,728.8 L1014.4,729.3 L1017.4,729.1 L1020.5,729.2 L1023.9,729.8 L1027.1,730.0 L1030.2,729.6 L1033.6,729.4 L1036.8,728.9 L1040.0,728.7 L1043.4,729.3 L1046.5,728.7 L1049.8,728.9 L1052.9,728.9 L1056.3,728.8 L1059.5,728.4 L1062.8,728.7 L1066.1,728.8 L1069.3,728.9 L1072.5,729.5 L1075.8,730.1 L1079.1,730.6 L1082.1,731.1 L1085.6,730.7 L1088.6,730.4 L1091.8,731.3 L1095.2,730.9 L1098.2,731.3 L1101.6,730.8 L1104.8,730.6 L1108.2,730.4 L1111.2,730.4 L1114.6,730.0 L1117.8,729.9 L1121.2,729.9 L1124.2,730.4 L1127.2,730.3 L1130.7,730.7 L1133.9,730.8 L1137.3,730.9 L1140.3,731.0 L1143.7,730.9 L1146.9,730.8 L1149.9,730.6 L1153.3,730.8 L1156.3,730.7 L1159.7,730.4 L1162.9,730.5 L1166.3,730.3 L1169.3,730.2 L1172.8,731.0 L1175.8,731.2 L1179.0,731.0 L1182.4,730.9 L1185.4,730.8 L1188.8,730.6 L1191.8,730.7 L1195.0,730.2 L1198.0,729.9 L1201.4,730.3 L1204.4,730.2 L1207.8,730.1 L1211.0,730.1 L1214.5,730.1 L1217.5,730.7 L1220.9,730.7 L1223.9,730.2 L1227.1,729.7 L1230.5,729.8 L1233.5,729.7 L1236.9,729.6 L1239.9,729.1 L1243.5,729.6 L1246.5,729.6 L1249.9,729.3 L1253.2,729.0 L1256.2,728.9 L1260.2,728.9" fill="none" stroke="#6380cc" stroke-width="1.6" stroke-linejoin="round"/>
<g clip-path="url(#cc)">
<rect x="75.5" y="692" width="15" height="25.5" rx="5" fill="#ffffff" style="filter:drop-shadow(0 1px 2px rgba(0,0,0,0.18))"/>
<path d="M81.2,700v9M84.2,700v9" stroke="#a6abb8" stroke-width="1.2"/>
<rect x="1253" y="692.4" width="15" height="26" rx="5" fill="#ffffff" style="filter:drop-shadow(0 1px 2px rgba(0,0,0,0.18))"/>
<path d="M1258.7,700.5v9M1261.7,700.5v9" stroke="#a6abb8" stroke-width="1.2"/>
</g>
</svg>

<div class="abs" style="left:30.5px;top:760.5px;width:18.6px;height:18.4px;border-radius:4.5px;background:#4263eb;box-shadow:0 1px 3px rgba(66,99,235,.35)"></div>
<svg class="abs" style="left:30.5px;top:760.5px" width="19" height="19" viewBox="0 0 19 19" fill="none" stroke="#fff" stroke-width="1.15" stroke-linecap="round" stroke-linejoin="round"><path d="M3.6,10.6 L7.2,13.4 L14.9,6" opacity=".88"/></svg>
<span class="abs cur" style="left:67px;letter-spacing:-.9px">USD</span>
<div class="abs" style="left:146.8px;top:760.2px;width:17.8px;height:17.8px;border-radius:4.5px;background:#fff;border:1px solid #dfe2ea;box-shadow:0 1px 3px rgba(88,102,126,.28)"></div>
<span class="abs cur" style="left:183.4px;letter-spacing:-.7px">BTC</span>
<span class="abs" style="left:946px;top:758.2px;font-size:19px;line-height:22px;color:#5a6270;letter-spacing:.2px">Want more data? <span style="color:#4a60b8;letter-spacing:.36px">Check out our API</span></span>
</body></html>
